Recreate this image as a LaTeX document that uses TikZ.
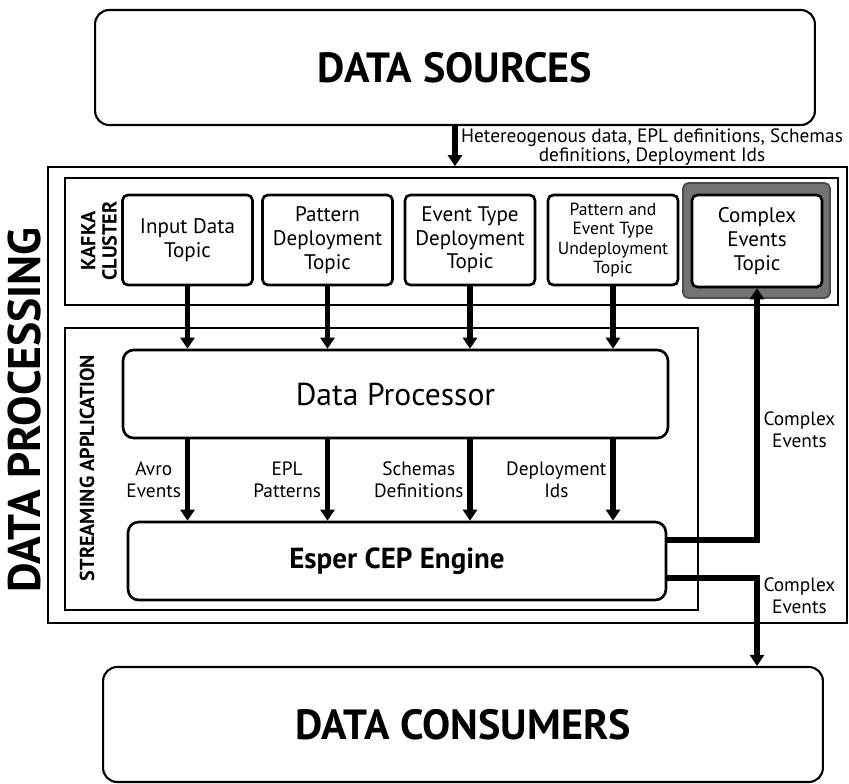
\documentclass[tikz,border=0pt]{standalone}
\usepackage{fontspec}
\setmainfont{PT Sans}
\usetikzlibrary{arrows.meta}
\usetikzlibrary{calc}

\begin{document}
\begin{tikzpicture}[x=0.02cm,y=-0.02cm,
  bigbox/.style={draw,line width=1.2pt,rounded corners=8pt,minimum width=14.4cm,minimum height=2.3cm,font=\fontsize{24}{26}\selectfont\bfseries},
  frame/.style={draw,line width=1pt,inner sep=0pt},
  topic/.style={draw,line width=1.5pt,rounded corners=3pt,minimum width=2.6cm,minimum height=1.8cm,align=center,inner sep=1pt,font=\fontsize{12}{13.5}\selectfont},
  engine/.style={draw,line width=1.5pt,rounded corners=6pt,font=\fontsize{18}{20}\selectfont},
  flow/.style={line width=3.4pt,-{Triangle[length=2.2mm,width=2.8mm]}},
  lbl/.style={align=center,inner sep=2pt,font=\fontsize{11}{12.5}\selectfont},
  sidelbl/.style={font=\fontsize{11.5}{12}\selectfont\bfseries,align=center,rotate=90}]
\useasboundingbox (0,0) rectangle (849,784);
\node[bigbox] (sources) at (455,67.5) {DATA SOURCES};
\node[bigbox] (consumers) at (463,724.5) {DATA CONSUMERS};
\node[frame,minimum width=15.98cm,minimum height=9.12cm] (proc) at (447.5,395) {};
\node[frame,minimum width=15.46cm,minimum height=2.54cm] (kafka) at (451.5,241.5) {};
\node[frame,minimum width=12.66cm,minimum height=5.64cm] (stream) at (381.5,469) {};
\node[font=\fontsize{26}{28}\selectfont\bfseries,rotate=90] (proclbl) at (25,410) {DATA PROCESSING};
\node[sidelbl] (kafkalbl) at (99,241) {KAFKA\\CLUSTER};
\node[sidelbl] (streamlbl) at (87,468) {STREAMING APPLICATION};
\node[topic] (input) at (187.5,240) {Input Data\\Topic};
\node[topic] (pattern) at (327.5,240) {Pattern\\Deployment\\Topic};
\node[topic] (evtype) at (470,240) {Event Type\\Deployment\\Topic};
\node[topic,font=\fontsize{10}{11}\selectfont] (undeploy) at (613,240) {Pattern and\\Event Type\\Undeployment\\Topic};
\node[draw=black!70,fill=black!55,line width=1pt,rounded corners=3pt,minimum width=2.94cm,minimum height=2.3cm] (cetbg) at (756.5,240.5) {};
\node[topic,fill=white,minimum height=1.84cm] (cet) at (757,241) {Complex\\Events\\Topic};
\node[engine,minimum width=10.9cm,minimum height=1.76cm] (dp) at (395.5,394) {Data Processor};
\node[engine,minimum width=10.76cm,minimum height=1.56cm,font=\fontsize{16.5}{18}\selectfont\bfseries] (esper) at (397,561) {Esper CEP Engine};
\draw[flow] (sources.south) -- (sources.south |- proc.north);
\node[lbl,font=\fontsize{11}{9}\selectfont,anchor=north,inner sep=0pt] (srclbl) at (652,128) {Hetereogenous data, EPL definitions, Schemas\\definitions, Deployment Ids};
\draw[flow] (input.south) -- (input.south |- dp.north);
\draw[flow] (pattern.south) -- (pattern.south |- dp.north);
\draw[flow] (evtype.south) -- (evtype.south |- dp.north);
\draw[flow] (undeploy.south) -- (undeploy.south |- dp.north);
\draw[flow] (dp.south -| input) -- (esper.north -| input) node[lbl,midway,anchor=east] (avro) {Avro\\Events};
\draw[flow] (dp.south -| pattern) -- (esper.north -| pattern) node[lbl,midway,anchor=east] (epl) {EPL\\Patterns};
\draw[flow] (dp.south -| evtype) -- (esper.north -| evtype) node[lbl,midway,anchor=east] (schemas) {Schemas\\Definitions};
\draw[flow] (dp.south -| undeploy) -- (esper.north -| undeploy) node[lbl,midway,anchor=east] (depids) {Deployment\\Ids};
\draw[flow] ([yshift=4.2mm]esper.east) -| (cet.south) node[lbl,pos=0.72,anchor=west] (celbl) {Complex\\Events};
\draw[flow] ([yshift=-3.4mm]esper.east) -| (cet |- consumers.north) node[lbl,pos=0.6,anchor=west] (cclbl) {Complex\\Events};
\end{tikzpicture}
\end{document}
